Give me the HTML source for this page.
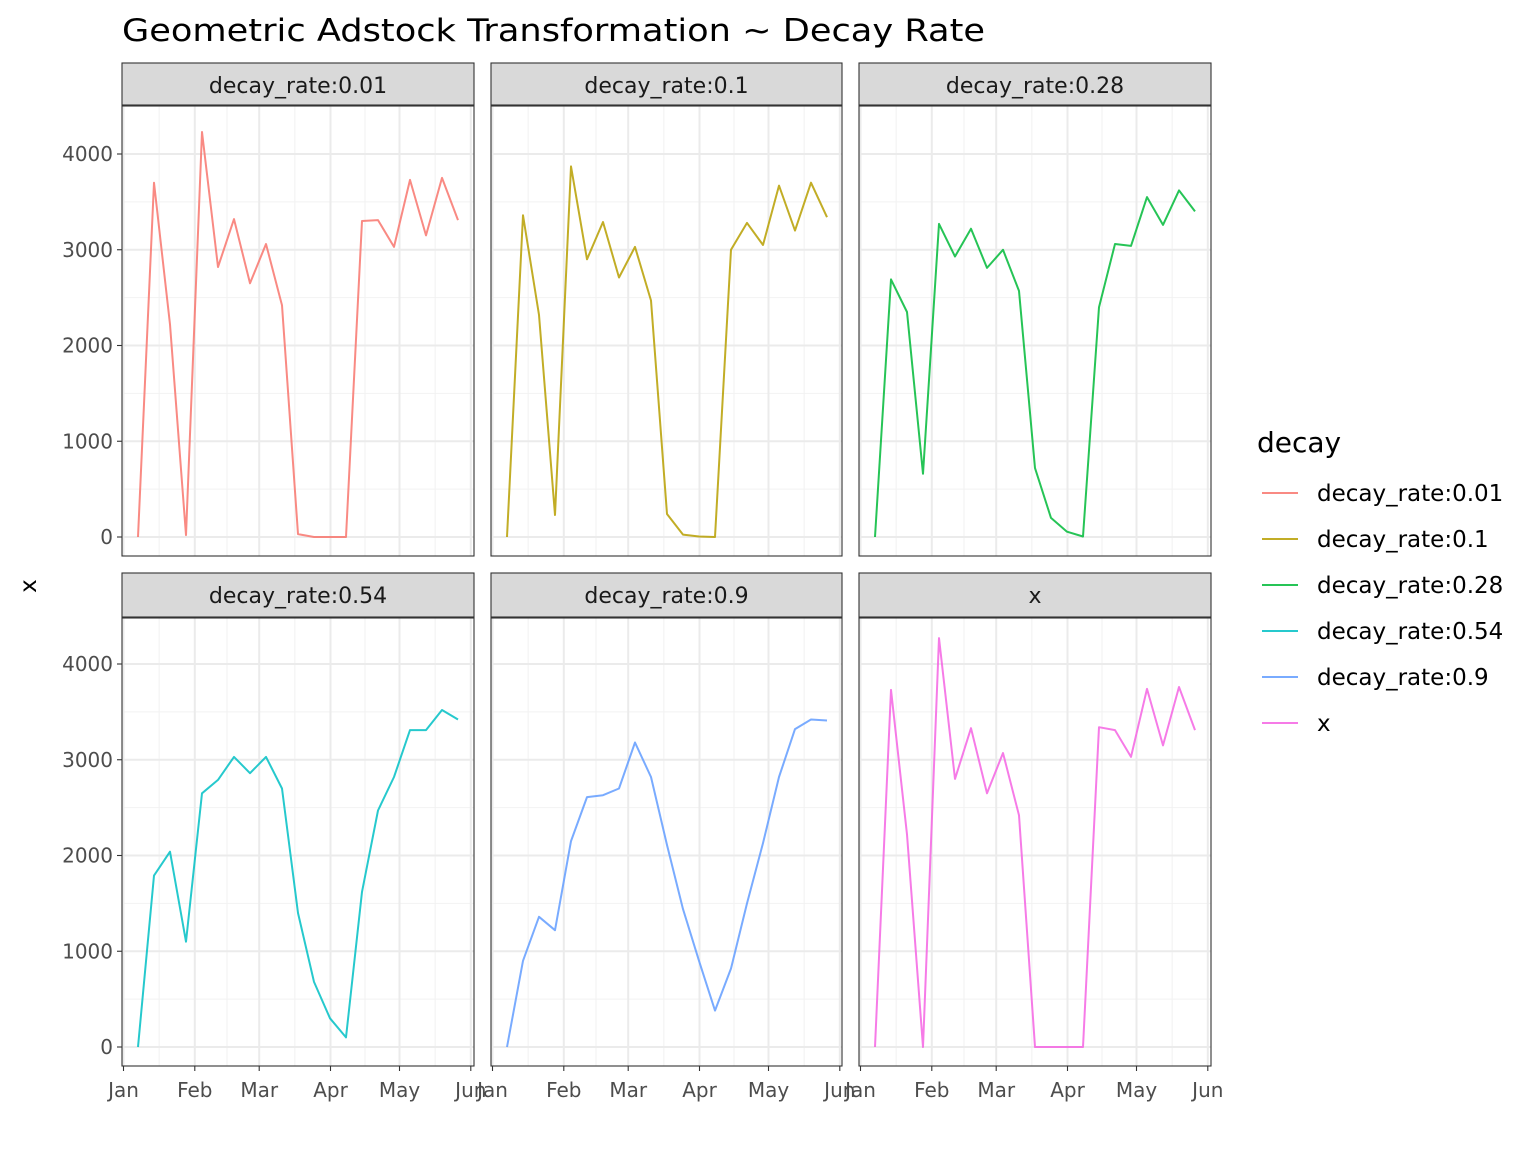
<!DOCTYPE html>
<html><head><meta charset="utf-8"><style>
body{margin:0;background:#fff;}
svg text{font-family:"DejaVu Sans","Liberation Sans",sans-serif;}
</style></head><body>
<svg id="s" width="1536" height="1152" xmlns="http://www.w3.org/2000/svg">
<rect width="1536" height="1152" fill="#fff"/>
<text x="122" y="41" font-size="31" textLength="863" lengthAdjust="spacingAndGlyphs" fill="#000">Geometric Adstock Transformation ~ Decay Rate</text>
<text transform="translate(36,586) rotate(-90)" font-size="23" text-anchor="middle" fill="#000">x</text>
<g id="g"></g>
</svg>
<script>
(function(){
var g=document.getElementById('g');var h='';
var cols=[[122,474],[491,842],[859,1211]];
var rows=[[63,106,556,537],[573,618,1066,1047]];
var names=['decay_rate:0.01','decay_rate:0.1','decay_rate:0.28','decay_rate:0.54','decay_rate:0.9','x'];
var colors=['#F8766D','#B79F00','#00BA38','#00BFC4','#619CFF','#F564E3'];
var data=[
[0,3700,2220,20,4230,2820,3320,2650,3060,2420,30,0,0,0,3300,3310,3030,3730,3150,3750,3310],
[0,3360,2320,230,3870,2900,3290,2710,3030,2470,240,25,5,0,3000,3280,3050,3670,3200,3700,3340],
[0,2690,2350,660,3270,2930,3220,2810,3000,2570,720,200,55,5,2400,3060,3040,3550,3260,3620,3400],
[0,1790,2040,1100,2650,2790,3030,2860,3030,2700,1400,680,300,100,1620,2470,2820,3310,3310,3520,3420],
[0,900,1360,1220,2150,2610,2630,2700,3180,2820,2110,1440,900,380,820,1500,2130,2820,3320,3420,3410],
[0,3730,2220,0,4270,2800,3330,2650,3070,2420,0,0,0,0,3340,3310,3030,3740,3150,3760,3310]];
var months=[[0,'Jan'],[31,'Feb'],[59,'Mar'],[90,'Apr'],[120,'May'],[151,'Jun']];
for(var i=0;i<6;i++){
 var c=cols[i%3],r=rows[Math.floor(i/3)];
 var x0=c[0],x1=c[1],pt=r[1],pb=r[2],y0=r[3];
 var ppd=2.30, jan=x0+1.5;
 var yy=function(v){return y0-v*383/4000;};
 h+='<rect x="'+x0+'" y="'+pt+'" width="'+(x1-x0)+'" height="'+(pb-pt)+'" fill="#fff"/>';
 for(var v=500;v<=4500;v+=1000){var y=yy(v);if(y>pt)h+='<line x1="'+x0+'" x2="'+x1+'" y1="'+y+'" y2="'+y+'" stroke="#F2F2F2" stroke-width="1"/>';}
 [15.5,45,74.5,105,135.5].forEach(function(d){var x=jan+d*ppd;h+='<line x1="'+x+'" x2="'+x+'" y1="'+pt+'" y2="'+pb+'" stroke="#F2F2F2" stroke-width="1"/>';});
 for(var v=0;v<=4000;v+=1000){var y=yy(v);h+='<line x1="'+x0+'" x2="'+x1+'" y1="'+y+'" y2="'+y+'" stroke="#EBEBEB" stroke-width="2"/>';}
 months.forEach(function(m){var x=jan+m[0]*ppd;if(x<x1)h+='<line x1="'+x+'" x2="'+x+'" y1="'+pt+'" y2="'+pb+'" stroke="#EBEBEB" stroke-width="2"/>';});
 var pts=data[i].map(function(v,j){return (x0+16+16*j)+','+yy(v).toFixed(1);}).join(' ');
 h+='<polyline points="'+pts+'" fill="none" stroke="'+colors[i]+'" stroke-width="2" stroke-opacity="0.85" stroke-linejoin="round"/>';
 h+='<rect x="'+x0+'" y="'+pt+'" width="'+(x1-x0)+'" height="'+(pb-pt)+'" fill="none" stroke="#333" stroke-width="1.1"/>';
 h+='<rect x="'+x0+'" y="'+r[0]+'" width="'+(x1-x0)+'" height="'+(pt-r[0]-1)+'" fill="#D9D9D9" stroke="#333" stroke-width="1.1"/>';
 h+='<text x="'+((x0+x1)/2)+'" y="'+(r[0]+30)+'" font-size="22" text-anchor="middle" fill="#1A1A1A">'+names[i]+'</text>';
 if(i%3==0){for(var v=0;v<=4000;v+=1000){var y=yy(v);h+='<line x1="'+(x0-5)+'" x2="'+x0+'" y1="'+y+'" y2="'+y+'" stroke="#333" stroke-width="1.1"/>';h+='<text x="'+(x0-9)+'" y="'+(y+7)+'" font-size="20" text-anchor="end" fill="#4D4D4D">'+v+'</text>';}}
 if(i>=3){months.forEach(function(m){var x=jan+m[0]*ppd;h+='<line x1="'+x+'" x2="'+x+'" y1="'+pb+'" y2="'+(pb+5)+'" stroke="#333" stroke-width="1.1"/>';h+='<text x="'+x+'" y="'+(pb+31)+'" font-size="20" text-anchor="middle" fill="#4D4D4D">'+m[1]+'</text>';});}
}
h+='<text x="1257" y="452" font-size="28" fill="#000">decay</text>';
for(var i=0;i<6;i++){var y=493+46*i;h+='<line x1="1262" x2="1298" y1="'+y+'" y2="'+y+'" stroke="'+colors[i]+'" stroke-width="2" stroke-opacity="0.85"/>';h+='<text x="1317" y="'+(y+8)+'" font-size="23" fill="#000">'+names[i]+'</text>';}
g.innerHTML=h;
})();
</script>
</body></html>
